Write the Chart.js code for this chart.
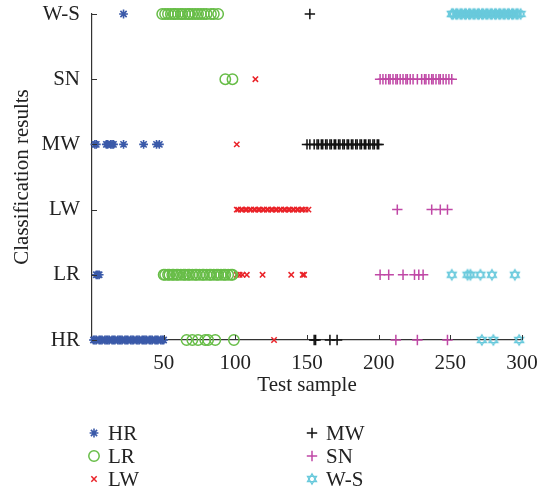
<!DOCTYPE html>
<html>
<head>
<meta charset="utf-8">
<script src="https://cdn.jsdelivr.net/npm/chart.js@4/dist/chart.umd.min.js"></script>
<style>
  html, body { margin: 0; padding: 0; background: #fff; }
  #wrap { width: 542px; height: 493px; }
</style>
</head>
<body>
<div id="wrap"><canvas id="c" width="542" height="493"></canvas></div>
<script>
// Row categories, bottom to top on the vertical axis
const rowLabels = ['HR', 'LR', 'LW', 'MW', 'SN', 'W-S'];
const xTicks = [50, 100, 150, 200, 250, 300];

// Test samples of each true class, grouped by the class they were assigned to
const hrSamples = [
  ['HR', [1, 2, 3, 5, 6, 7, 9, 10, 11, 12, 14, 15, 16, 18, 19, 20, 21, 23, 24, 25, 27, 28, 29, 31, 32, 33, 35, 36, 37, 38, 40, 41, 42, 44, 45, 46, 48, 49, 50]],
  ['LR', [3, 4, 5]],
  ['MW', [2, 3, 10, 11, 13, 14, 15, 22, 36, 45, 47]],
  ['W-S', [22]]
];
const lrSamples = [
  ['HR', [66, 70, 74, 79, 81, 86, 99]],
  ['LR', [50, 51, 53, 54, 56, 57, 59, 60, 62, 64, 65, 67, 68, 70, 72, 73, 75, 77, 78, 80, 82, 83, 85, 87, 88, 90, 92, 93, 95, 97, 98]],
  ['SN', [93, 98]],
  ['W-S', [49, 51, 53, 55, 57, 58, 60, 62, 63, 65, 67, 68, 70, 72, 74, 76, 78, 80, 83, 85, 88]]
];
const lwSamples = [
  ['HR', [127]],
  ['LR', [101, 103, 105, 108, 119, 139, 147, 148]],
  ['LW', [101, 102, 104, 105, 107, 108, 110, 111, 113, 114, 116, 117, 119, 120, 122, 123, 125, 126, 128, 129, 131, 132, 134, 135, 137, 138, 140, 141, 143, 144, 146, 147, 149, 151]],
  ['MW', [101]],
  ['SN', [114]]
];
const mwSamples = [
  ['HR', [155, 156, 166, 171]],
  ['MW', [150, 152, 155, 157, 158, 160, 161, 163, 164, 166, 167, 169, 170, 172, 173, 175, 176, 178, 179, 181, 182, 184, 185, 187, 188, 190, 191, 193, 194, 196, 197, 199, 200]],
  ['W-S', [152]]
];
const snSamples = [
  ['HR', [212, 227, 248]],
  ['LR', [201, 207, 217, 225, 228, 231]],
  ['LW', [213, 237, 243, 248]],
  ['SN', [201, 203, 205, 207, 208, 210, 212, 213, 215, 217, 219, 220, 222, 224, 227, 230, 232, 233, 235, 237, 238, 240, 242, 243, 245, 247, 249, 251]]
];
const wsSamples = [
  ['HR', [272, 280, 298]],
  ['LR', [251, 262, 264, 271, 279, 295]],
  ['W-S', [251, 252, 254, 255, 257, 258, 260, 261, 263, 264, 266, 267, 269, 270, 272, 273, 275, 276, 278, 279, 281, 282, 284, 285, 287, 288, 290, 291, 293, 294, 296, 297, 299]]
];

function toPoints(groups) {
  const pts = [];
  groups.forEach(([row, xs]) => {
    const y = rowLabels.indexOf(row);
    xs.forEach(x => pts.push({ x: x, y: y }));
  });
  return pts;
}

// Six-pointed star marker (two overlapping triangles)
function makeHexagram(color, r) {
  const size = Math.ceil(r * 2 + 3);
  const cv = document.createElement('canvas');
  cv.width = size; cv.height = size;
  const g = cv.getContext('2d');
  const c = size / 2;
  g.strokeStyle = color;
  g.lineWidth = 1.3;
  [-90, 90].forEach(start => {
    g.beginPath();
    for (let k = 0; k < 3; k++) {
      const a = (start + k * 120) * Math.PI / 180;
      const px = c + r * Math.cos(a), py = c + r * Math.sin(a);
      if (k === 0) g.moveTo(px, py); else g.lineTo(px, py);
    }
    g.closePath();
    g.stroke();
  });
  return cv;
}

const colors = {
  HR: '#3b5aa9',
  LR: '#67bd47',
  LW: '#ea2228',
  MW: '#111111',
  SN: '#c048a6',
  WS: '#68c9dc'
};
const hexagram = makeHexagram(colors.WS, 5.2);

const datasets = [
  { label: 'HR', data: toPoints(hrSamples), pointStyle: 'star', radius: 4.4, borderColor: colors.HR, backgroundColor: colors.HR, borderWidth: 1.6 },
  { label: 'LR', data: toPoints(lrSamples), pointStyle: 'circle', radius: 5.2, borderColor: colors.LR, backgroundColor: 'rgba(0,0,0,0)', borderWidth: 1.5 },
  { label: 'LW', data: toPoints(lwSamples), pointStyle: 'crossRot', radius: 3.8, borderColor: colors.LW, backgroundColor: colors.LW, borderWidth: 1.5 },
  { label: 'MW', data: toPoints(mwSamples), pointStyle: 'cross', radius: 5.2, borderColor: colors.MW, backgroundColor: colors.MW, borderWidth: 1.5 },
  { label: 'SN', data: toPoints(snSamples), pointStyle: 'cross', radius: 5.2, borderColor: colors.SN, backgroundColor: colors.SN, borderWidth: 1.5 },
  { label: 'W-S', data: toPoints(wsSamples), pointStyle: hexagram, radius: 5, borderColor: colors.WS, backgroundColor: colors.WS, borderWidth: 1.3 }
];
datasets.forEach(d => { d.clip = false; d.hoverRadius = d.radius; });

const FONT = "'Liberation Serif', 'DejaVu Serif', serif";
const TEXT_COLOR = '#222222';
const AXIS_COLOR = '#333333';

// Short tick marks pointing into the plot area
const innerTicks = {
  id: 'innerTicks',
  afterDatasetsDraw(chart) {
    const { ctx, chartArea, scales } = chart;
    ctx.save();
    ctx.strokeStyle = AXIS_COLOR;
    ctx.lineWidth = 1;
    xTicks.forEach(v => {
      const px = Math.round(scales.x.getPixelForValue(v)) + 0.5;
      ctx.beginPath();
      ctx.moveTo(px, chartArea.bottom);
      ctx.lineTo(px, chartArea.bottom - 5);
      ctx.stroke();
    });
    rowLabels.forEach((_, i) => {
      const py = Math.round(scales.y.getPixelForValue(i)) + 0.5;
      ctx.beginPath();
      ctx.moveTo(chartArea.left, py);
      ctx.lineTo(chartArea.left + 5, py);
      ctx.stroke();
    });
    ctx.restore();
  }
};

function drawMarker(ctx, ds, x, y) {
  const r = ds.radius;
  ctx.save();
  ctx.strokeStyle = ds.borderColor;
  ctx.lineWidth = ds.borderWidth;
  const style = ds.pointStyle;
  if (typeof style !== 'string') {
    ctx.drawImage(style, x - style.width / 2, y - style.height / 2);
  } else if (style === 'circle') {
    ctx.beginPath(); ctx.arc(x, y, r, 0, Math.PI * 2); ctx.stroke();
  } else {
    const lines = [];
    if (style === 'cross' || style === 'star') lines.push([0, -r, 0, r], [-r, 0, r, 0]);
    if (style === 'crossRot' || style === 'star') {
      const d = r * Math.SQRT1_2;
      lines.push([-d, -d, d, d], [-d, d, d, -d]);
    }
    ctx.beginPath();
    lines.forEach(l => { ctx.moveTo(x + l[0], y + l[1]); ctx.lineTo(x + l[2], y + l[3]); });
    ctx.stroke();
  }
  ctx.restore();
}

// Two-column legend under the axis title
const columnLegend = {
  id: 'columnLegend',
  afterDraw(chart) {
    const { ctx } = chart;
    const cols = [{ mx: 94, tx: 108 }, { mx: 312, tx: 326 }];
    const rowsY = [433, 456, 479];
    ctx.save();
    ctx.font = '21px ' + FONT;
    ctx.fillStyle = TEXT_COLOR;
    ctx.textBaseline = 'middle';
    chart.data.datasets.forEach((ds, i) => {
      const col = cols[Math.floor(i / 3)];
      const y = rowsY[i % 3];
      drawMarker(ctx, ds, col.mx, y);
      ctx.fillText(ds.label, col.tx, y + 1);
    });
    ctx.restore();
  }
};

new Chart(document.getElementById('c'), {
  type: 'scatter',
  data: { datasets: datasets },
  options: {
    responsive: false,
    animation: false,
    devicePixelRatio: 1,
    layout: { padding: { top: 14, right: 20, bottom: 95, left: 0 } },
    plugins: { legend: { display: false }, tooltip: { enabled: false } },
    scales: {
      x: {
        type: 'linear',
        min: 0,
        max: 300,
        afterFit(scale) { scale.height = 58; scale.paddingLeft = 0; scale.paddingRight = 0; },
        afterBuildTicks(scale) { scale.ticks = xTicks.map(v => ({ value: v })); },
        grid: { display: false },
        border: { display: true, color: AXIS_COLOR, width: 1.2 },
        ticks: { color: TEXT_COLOR, font: { family: FONT, size: 21 }, padding: 3, maxRotation: 0 },
        title: { display: true, text: 'Test sample', color: TEXT_COLOR, font: { family: FONT, size: 21 }, padding: { top: 0, bottom: 0 } }
      },
      y: {
        type: 'linear',
        min: 0,
        max: 5,
        afterFit(scale) { scale.width = 92; scale.paddingTop = 0; scale.paddingBottom = 0; },
        afterBuildTicks(scale) { scale.ticks = rowLabels.map((_, i) => ({ value: i })); },
        grid: { display: false },
        border: { display: true, color: AXIS_COLOR, width: 1.2 },
        ticks: {
          color: TEXT_COLOR,
          font: { family: FONT, size: 21 },
          padding: 4,
          callback: v => rowLabels[v]
        },
        title: { display: true, text: 'Classification results', color: TEXT_COLOR, font: { family: FONT, size: 21 }, padding: { top: 10, bottom: 0 } }
      }
    }
  },
  plugins: [innerTicks, columnLegend]
});
</script>
</body>
</html>
